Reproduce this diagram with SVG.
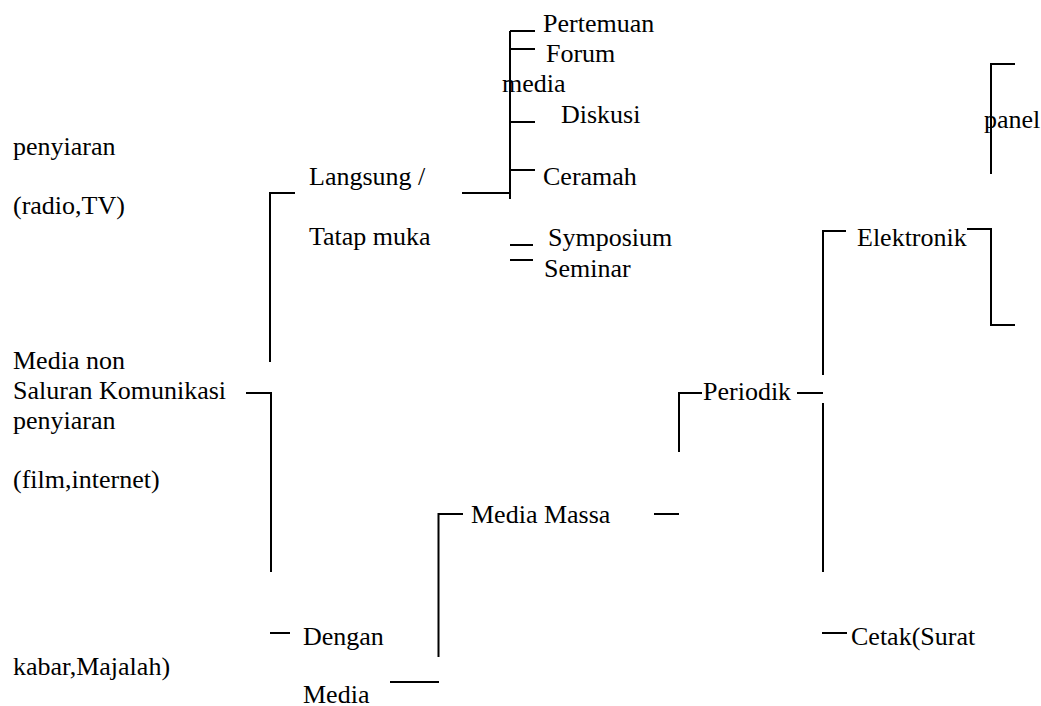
<svg xmlns="http://www.w3.org/2000/svg" width="1041" height="706" viewBox="0 0 1041 706">
  <style>
    .lbl { font-family: 'Liberation Serif', 'Times New Roman', Tinos, 'DejaVu Serif', serif; font-size: 26px; fill: #000; }
    .ln { stroke: #000; stroke-width: 2; fill: none; }
  </style>
  <rect width="1041" height="706" fill="#fff"/>

  <!-- connectors: bracket lines and ticks -->
  <g id="connectors" class="ln">
    <!-- Langsung / Tatap muka bracket -->
    <path d="M295,193 H270 V362"/>
    <!-- face-to-face forms -->
    <path d="M462,193 H510"/>
    <path d="M510,31 V199"/>
    <path d="M510,31 H535"/>
    <path d="M510,49 H535"/>
    <path d="M510,122 H535"/>
    <path d="M510,170 H535"/>
    <path d="M510,245 H533"/>
    <path d="M510,260 H533"/>
    <!-- panel bracket -->
    <path d="M1015,64 H991 V174"/>
    <!-- Saluran Komunikasi stem -->
    <path d="M246,393 H271 V572"/>
    <path d="M270,633 H290"/>
    <path d="M390,682 H439"/>
    <!-- Media Massa bracket -->
    <path d="M463,514 H438.5 V657"/>
    <path d="M654,514 H679"/>
    <!-- Periodik bracket -->
    <path d="M702,393 H679 V452"/>
    <path d="M797,393 H823"/>
    <!-- Elektronik / Cetak branch -->
    <path d="M846,231 H823 V375"/>
    <path d="M823,403 V572"/>
    <path d="M822,633 H847"/>
    <path d="M967,229 H991 V325 H1015"/>
  </g>

  <!-- labels -->
  <g class="lbl" font-family="Liberation Serif, Times New Roman, serif" font-size="26">
    <g id="n-pertemuan"><text x="543" y="32">Pertemuan</text></g>
    <g id="n-forum"><text x="546" y="62">Forum</text></g>
    <g id="n-media-top"><text x="502" y="92">media</text></g>
    <g id="n-diskusi"><text x="561" y="123">Diskusi</text></g>
    <g id="n-ceramah"><text x="543" y="185">Ceramah</text></g>
    <g id="n-symposium"><text x="548" y="246">Symposium</text></g>
    <g id="n-seminar"><text x="544" y="277">Seminar</text></g>
    <g id="n-panel"><text x="984" y="128">panel</text></g>

    <g id="n-penyiaran-1"><text x="13" y="155">penyiaran</text></g>
    <g id="n-radio-tv"><text x="13" y="214">(radio,TV)</text></g>
    <g id="n-langsung">
      <text x="309" y="185">Langsung /</text>
      <text x="309" y="245">Tatap muka</text>
    </g>
    <g id="n-elektronik"><text x="857" y="246">Elektronik</text></g>

    <g id="n-saluran">
      <text x="13" y="369">Media non</text>
      <text x="13" y="399">Saluran Komunikasi</text>
      <text x="13" y="429">penyiaran</text>
    </g>
    <g id="n-film"><text x="13" y="488">(film,internet)</text></g>
    <g id="n-periodik"><text x="703" y="400">Periodik</text></g>
    <g id="n-media-massa"><text x="471" y="523">Media Massa</text></g>

    <g id="n-dengan-media">
      <text x="303" y="645">Dengan</text>
      <text x="303" y="703">Media</text>
    </g>
    <g id="n-cetak"><text x="851" y="645">Cetak(Surat</text></g>
    <g id="n-kabar"><text x="13" y="675">kabar,Majalah)</text></g>
  </g>
</svg>
